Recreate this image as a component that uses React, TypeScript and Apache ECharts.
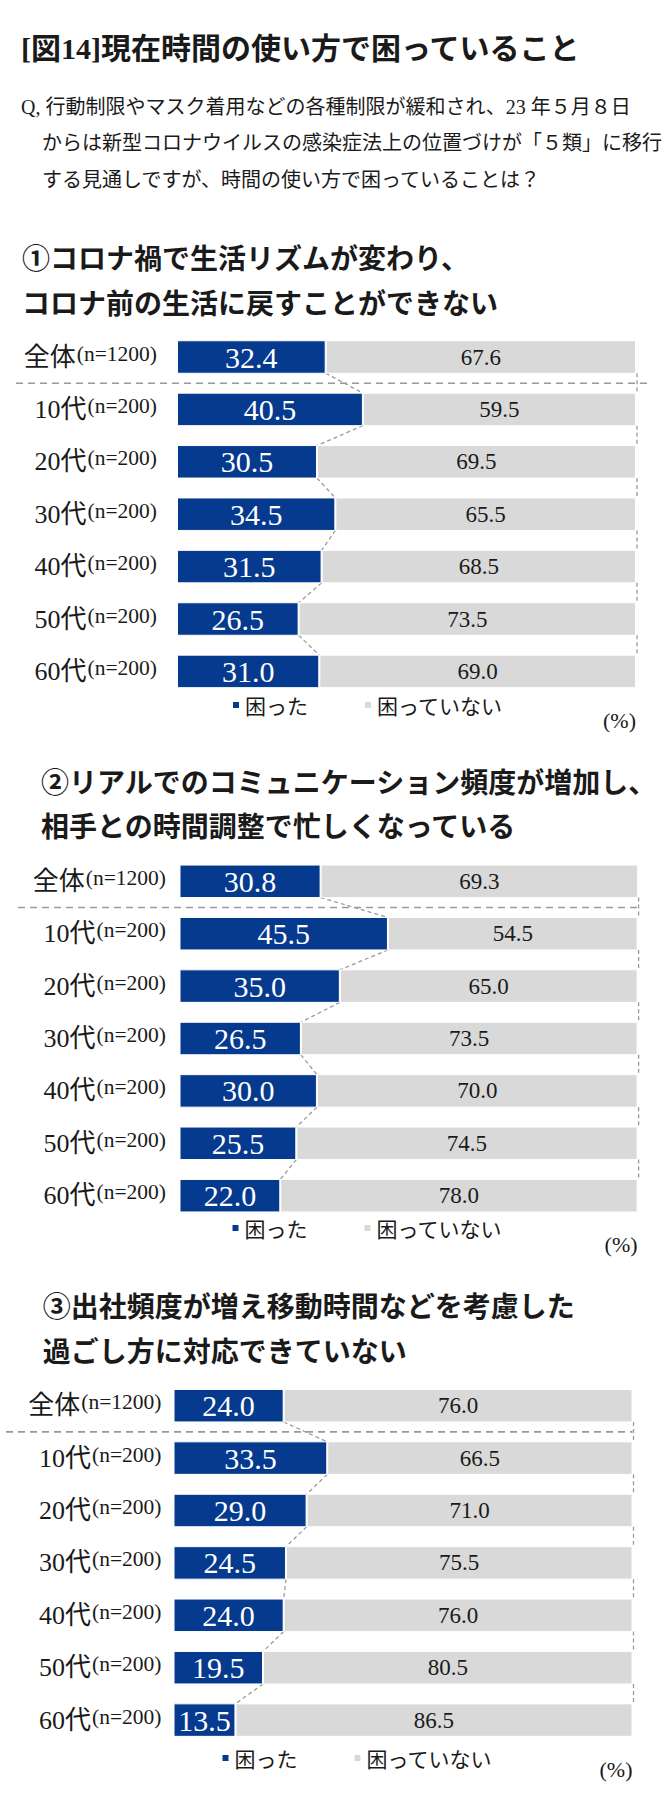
import React, { useEffect, useRef } from "react";
import * as echarts from "echarts";

// ---------- data ----------
const categories = ["全体", "10代", "20代", "30代", "40代", "50代", "60代"];
const sampleSizes = ["(n=1200)", "(n=200)", "(n=200)", "(n=200)", "(n=200)", "(n=200)", "(n=200)"];
const legendNames = ["困った", "困っていない"];

const chart1Troubled = [32.4, 40.5, 30.5, 34.5, 31.5, 26.5, 31.0];
const chart1NotTroubled = [67.6, 59.5, 69.5, 65.5, 68.5, 73.5, 69.0];
const chart2Troubled = [30.8, 45.5, 35.0, 26.5, 30.0, 25.5, 22.0];
const chart2NotTroubled = [69.3, 54.5, 65.0, 73.5, 70.0, 74.5, 78.0];
const chart3Troubled = [24.0, 33.5, 29.0, 24.5, 24.0, 19.5, 13.5];
const chart3NotTroubled = [76.0, 66.5, 71.0, 75.5, 76.0, 80.5, 86.5];

const pageTitle = "[図14]現在時間の使い方で困っていること";
const questionLines = [
  "Q, 行動制限やマスク着用などの各種制限が緩和され、23 年５月８日",
  "からは新型コロナウイルスの感染症法上の位置づけが「５類」に移行",
  "する見通しですが、時間の使い方で困っていることは？",
];
const chart1Title = ["①コロナ禍で生活リズムが変わり、", "コロナ前の生活に戻すことができない"];
const chart2Title = ["②リアルでのコミュニケーション頻度が増加し、", "相手との時間調整で忙しくなっている"];
const chart3Title = ["③出社頻度が増え移動時間などを考慮した", "過ごし方に対応できていない"];
const unitLabel = "(%)";

// ---------- styles / layout ----------
const BLUE = "#053a8e";
const GRAY = "#d9d9d9";
const TEXT = "#1a1a1a";
const DASH = "#9a9a9a";
const SERIF = "'Liberation Serif', 'Noto Sans CJK JP', serif";
const SANS_JP = "'Noto Sans CJK JP', sans-serif";
const BAR_W = 33.5;
const BAR_VISIBLE = 32.5;

const panels = [
  {
    troubled: chart1Troubled, notTroubled: chart1NotTroubled, title: chart1Title,
    left: 177, right: 636, top: 330.8, height: 366.8, labelMargin: 20,
    sep: [16, 650], legendLeft: 231, legendTop: 694.5, unitY: 720,
    titleX: 22, titleY: [257, 302],
  },
  {
    troubled: chart2Troubled, notTroubled: chart2NotTroubled, title: chart2Title,
    left: 179.5, right: 637.6, top: 855.1, height: 366.8, labelMargin: 13.5,
    sep: [18, 638], legendLeft: 230.5, legendTop: 1217.5, unitY: 1244.5,
    titleX: 41, titleY: [781, 825],
  },
  {
    troubled: chart3Troubled, notTroubled: chart3NotTroubled, title: chart3Title,
    left: 173.5, right: 632.5, top: 1379.5, height: 366.8, labelMargin: 12,
    sep: [6, 632.5], legendLeft: 220.5, legendTop: 1747.5, unitY: 1769.5,
    titleX: 42.7, titleY: [1305, 1350],
  },
];

function buildOption() {
  const grid: any[] = [];
  const xAxis: any[] = [];
  const yAxis: any[] = [];
  const series: any[] = [];
  const legend: any[] = [];
  const graphic: any[] = [];

  graphic.push({
    type: "text", x: 21, y: 48,
    style: { text: pageTitle, fontSize: 30, fontWeight: "bold", fontFamily: SERIF, fill: TEXT, align: "left", verticalAlign: "middle" },
  });
  const qPos = [[21, 107], [42, 143], [42, 180]];
  questionLines.forEach((t, i) => {
    graphic.push({
      type: "text", x: qPos[i][0], y: qPos[i][1],
      style: { text: t, fontSize: 20, fontFamily: SERIF, fill: TEXT, align: "left", verticalAlign: "middle" },
    });
  });

  panels.forEach((p, idx) => {
    grid.push({ left: p.left, top: p.top, width: p.right - p.left, height: p.height, containLabel: false });
    xAxis.push({ type: "value", gridIndex: idx, min: 0, max: 100, show: false });
    yAxis.push({
      type: "category", gridIndex: idx, inverse: true, data: categories,
      axisLine: { show: false }, axisTick: { show: false }, splitLine: { show: false },
      axisLabel: {
        margin: p.labelMargin,
        color: TEXT,
        formatter: (v: string, i: number) => `{a|${v}}{b|${sampleSizes[i]}}`,
        rich: {
          a: { fontSize: 26, fontFamily: SERIF, color: TEXT },
          b: { fontSize: 21.5, fontFamily: SERIF, color: TEXT, verticalAlign: "middle", padding: [0, 0, 7, 1] },
        },
      },
    });
    series.push({
      type: "bar", name: legendNames[0], stack: "s" + idx, xAxisIndex: idx, yAxisIndex: idx,
      data: p.troubled, barWidth: BAR_W,
      itemStyle: { color: BLUE, borderColor: "#fff", borderWidth: 1 },
      label: {
        show: true, position: "inside", color: "#fff", fontSize: 30, fontFamily: SERIF,
        formatter: (q: any) => Number(q.value).toFixed(1),
      },
      z: 2,
    });
    series.push({
      type: "bar", name: legendNames[1], stack: "s" + idx, xAxisIndex: idx, yAxisIndex: idx,
      data: p.notTroubled, barWidth: BAR_W,
      itemStyle: { color: GRAY, borderColor: "#fff", borderWidth: 1 },
      label: {
        show: true, position: "inside", color: TEXT, fontSize: 23, fontFamily: SERIF,
        formatter: (q: any) => Number(q.value).toFixed(1),
      },
      z: 2,
    });
    const connData = p.troubled.slice(0, -1).map((v, i) => [v, p.troubled[i + 1], i]);
    const sep = p.sep;
    series.push({
      type: "custom", xAxisIndex: idx, yAxisIndex: idx, silent: true, clip: false, z: 1,
      encode: { x: 0, y: 2 },
      data: connData,
      renderItem: (_params: any, api: any) => {
        const i = api.value(2);
        const a = api.coord([api.value(0), i]);
        const b = api.coord([api.value(1), i + 1]);
        const ra = api.coord([100, i]);
        const half = BAR_VISIBLE / 2;
        const thin = { stroke: DASH, lineWidth: 1.3, lineDash: [4, 3], fill: null };
        const children: any[] = [
          { type: "line", shape: { x1: a[0], y1: a[1] + half, x2: b[0], y2: b[1] - half }, style: thin },
          { type: "line", shape: { x1: ra[0] + 1, y1: a[1] + half, x2: ra[0] + 1, y2: b[1] - half }, style: thin },
        ];
        if (i === 0) {
          const ym = (a[1] + b[1]) / 2;
          children.push({
            type: "line", shape: { x1: sep[0], y1: ym, x2: sep[1], y2: ym },
            style: { stroke: DASH, lineWidth: 1.6, lineDash: [7, 5], fill: null },
          });
        }
        return { type: "group", children };
      },
    });
    legend.push({
      data: legendNames, selectedMode: false, left: p.legendLeft, top: p.legendTop, padding: 0,
      icon: "rect", itemWidth: 8, itemHeight: 8, itemGap: 55, orient: "horizontal",
      textStyle: { fontSize: 21, fontFamily: SANS_JP, color: TEXT },
    });
    graphic.push({
      type: "text", x: p.right, y: p.unitY,
      style: { text: unitLabel, fontSize: 22, fontFamily: SERIF, fill: TEXT, align: "right", verticalAlign: "middle" },
    });
    p.title.forEach((t, li) => {
      graphic.push({
        type: "text", x: p.titleX, y: p.titleY[li],
        style: { text: t, fontSize: 28, fontWeight: "bold", fontFamily: SANS_JP, fill: TEXT, align: "left", verticalAlign: "middle" },
      });
    });
  });

  return {
    animation: false,
    backgroundColor: "#fff",
    grid, xAxis, yAxis, series, legend, graphic,
  };
}

export default function App() {
  const ref = useRef<HTMLDivElement>(null);
  useEffect(() => {
    if (!ref.current) return;
    const chart = echarts.init(ref.current, null, { renderer: "svg" });
    chart.setOption(buildOption() as any);
    return () => chart.dispose();
  }, []);
  return (
    <div
      ref={ref}
      style={{ position: "absolute", left: 0, top: 0, width: 670, height: 1800, background: "#fff" }}
    />
  );
}
